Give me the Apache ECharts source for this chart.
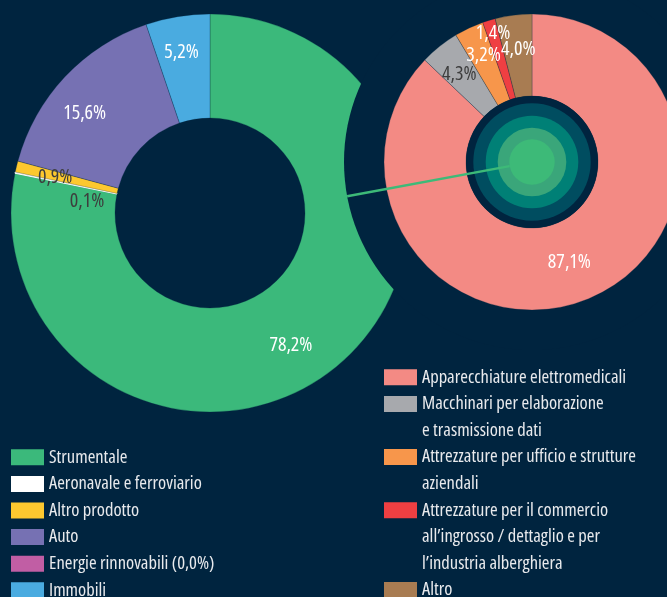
<!DOCTYPE html>
<html><head><meta charset="utf-8">
<script src="https://cdn.jsdelivr.net/npm/echarts@6/dist/echarts.min.js"></script>
<style>html,body{margin:0;padding:0;background:#00243f}#c{width:667px;height:597px}</style>
</head><body><div id="c"></div><script>
// ---- data ----
const leftNames = ['Strumentale', 'Aeronavale e ferroviario', 'Altro prodotto', 'Auto', 'Energie rinnovabili', 'Immobili'];
const leftValues = [78.2, 0.1, 0.9, 15.6, 0.0, 5.2];
const leftLegendLines = [['Strumentale'], ['Aeronavale e ferroviario'], ['Altro prodotto'], ['Auto'], ['Energie rinnovabili (0,0%)'], ['Immobili']];

const rightNames = ['Apparecchiature elettromedicali', 'Macchinari per elaborazione e trasmissione dati', 'Attrezzature per ufficio e strutture aziendali', 'Attrezzature per il commercio all’ingrosso / dettaglio e per l’industria alberghiera', 'Altro'];
const rightValues = [87.1, 4.3, 3.2, 1.4, 4.0];
const rightLegendLines = [['Apparecchiature elettromedicali'], ['Macchinari per elaborazione', 'e trasmissione dati'], ['Attrezzature per ufficio e strutture', 'aziendali'], ['Attrezzature per il commercio', 'all’ingrosso / dettaglio e per', 'l’industria alberghiera'], ['Altro']];

// ---- styles ----
const BG = '#00243f';
const FONT = "'Open Sans', 'Roboto', sans-serif";
const STRETCH = 'condensed';
const LINE = 26.6;
const TEXT_COLOR = '#e8eaed';
const SLICE_BORDER = 'rgba(0,36,63,0.45)';
const leftColors = ['#3bb97b', '#ffffff', '#fdc82f', '#7671b3', '#c15ea4', '#4aabe0'];
const leftBorders = [SLICE_BORDER, '#ffffff', SLICE_BORDER, SLICE_BORDER, SLICE_BORDER, SLICE_BORDER];
const leftLabelColors = ['#ffffff', '#3d3d3d', '#3d3d3d', '#ffffff', '#ffffff', '#ffffff'];
const leftLabelShift = [[-14, 16], [24, 19], [-9, -1], [-16, 3], [0, 0], [-4, -13]];
const rightColors = ['#f38a84', '#a7a9ad', '#f7964b', '#ef3f42', '#a87c52'];
const rightBorders = [SLICE_BORDER, SLICE_BORDER, SLICE_BORDER, SLICE_BORDER, SLICE_BORDER];
const rightLabelColors = ['#ffffff', '#3d3d3d', '#ffffff', '#ffffff', '#ffffff'];
const rightLabelShift = [[-6, -1], [-4, -1.5], [-1.6, -7], [-7, -23.6], [0, -4]];

// ---- layout ----
const LEFT_C = [210, 213], LEFT_R = [95, 199];
const RIGHT_C = [532, 162], RIGHT_R = [66, 148];
const GAP_R = 188;
const RINGS = [[66, BG], [58.7, '#004d60'], [46.3, '#008076'], [34.3, '#3aa67a']];
const CORE = [22.7, '#3dba78'];
const CONNECT_DEG = 169.5;
const LEFT_LEGEND = [11, 457.3], RIGHT_LEGEND = [384, 377.3];

function pct(v) { return v.toFixed(1).replace('.', ',') + '%'; }

function pieData(names, values, colors, borders, labelColors) {
  return names.map((n, i) => ({
    name: n, value: values[i],
    itemStyle: { color: colors[i], borderColor: borders[i], borderWidth: values[i] > 0 ? (borders[i] === SLICE_BORDER ? 0.6 : 1) : 0 },
    label: { show: values[i] > 0, color: labelColors[i] }
  }));
}

function legends(names, lines, pos) {
  const out = [];
  let y = pos[1];
  names.forEach((n, i) => {
    const k = lines[i].length;
    // leading blank lines keep the first text line level with the colour box
    const txt = '\n'.repeat(k - 1) + lines[i].join('\n');
    out.push({
      data: [{ name: n, icon: 'rect' }],
      left: pos[0], top: y - (2 * k - 1) * LINE / 2,
      orient: 'vertical', padding: 0, itemWidth: 33, itemHeight: 16, itemGap: 0,
      selectedMode: false,
      itemStyle: { borderWidth: 0 },
      formatter: () => txt,
      textStyle: { color: TEXT_COLOR, fontFamily: FONT, fontStyle: STRETCH, fontSize: 18.5, lineHeight: LINE }
    });
    y += k * LINE;
  });
  return out;
}

function pieSeries(z, center, radius, names, values, colors, borders, labelColors, shift) {
  return {
    type: 'pie', z, center, radius, startAngle: 90, clockwise: true,
    animation: false, silent: true, avoidLabelOverlap: false,
    label: { show: true, position: 'inside', formatter: p => pct(p.value), fontFamily: FONT, fontStyle: STRETCH, fontSize: 20 },
    labelLine: { show: false },
    labelLayout: p => ({ dx: shift[p.dataIndex][0], dy: shift[p.dataIndex][1] }),
    emphasis: { disabled: true },
    data: pieData(names, values, colors, borders, labelColors)
  };
}

const a = CONNECT_DEG * Math.PI / 180;
const dx = Math.cos(a), dy = Math.sin(a);

const chart = echarts.init(document.getElementById('c'), null, { renderer: 'canvas' });
chart.setOption({
  backgroundColor: BG,
  animation: false,
  legend: legends(leftNames, leftLegendLines, LEFT_LEGEND).concat(legends(rightNames, rightLegendLines, RIGHT_LEGEND)),
  series: [
    pieSeries(1, LEFT_C, LEFT_R, leftNames, leftValues, leftColors, leftBorders, leftLabelColors, leftLabelShift),
    {
      type: 'pie', z: 2, center: RIGHT_C, radius: [0, GAP_R], silent: true, animation: false,
      label: { show: false }, labelLine: { show: false }, emphasis: { disabled: true },
      data: [{ name: '_gap', value: 1, itemStyle: { color: BG } }]
    },
    pieSeries(3, RIGHT_C, RIGHT_R, rightNames, rightValues, rightColors, rightBorders, rightLabelColors, rightLabelShift)
  ],
  graphic: {
    elements: RINGS.map((r, i) => ({
      type: 'circle', z: 10 + i, silent: true,
      shape: { cx: RIGHT_C[0], cy: RIGHT_C[1], r: r[0] }, style: { fill: r[1] }
    })).concat([
      {
        type: 'line', z: 20, silent: true,
        shape: { x1: RIGHT_C[0] + GAP_R * dx, y1: RIGHT_C[1] + GAP_R * dy, x2: RIGHT_C[0] + CORE[0] * dx, y2: RIGHT_C[1] + CORE[0] * dy },
        style: { stroke: CORE[1], lineWidth: 2.5 }
      },
      {
        type: 'circle', z: 21, silent: true,
        shape: { cx: RIGHT_C[0], cy: RIGHT_C[1], r: CORE[0] }, style: { fill: CORE[1] }
      }
    ])
  }
});
</script></body></html>
